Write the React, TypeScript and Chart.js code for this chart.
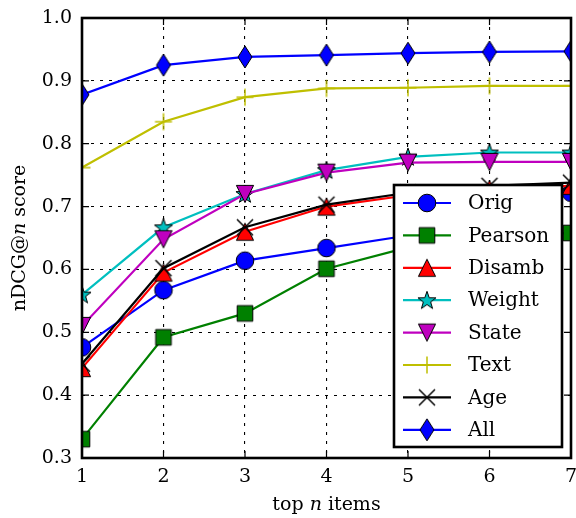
import React, { useEffect, useRef } from "react";
import { Chart, registerables } from "chart.js";

Chart.register(...registerables);

const nValues = [1, 2, 3, 4, 5, 6, 7];
const orig = [0.476, 0.567, 0.614, 0.634, 0.654, 0.675, 0.722];
const pearson = [0.33, 0.492, 0.53, 0.601, 0.635, 0.65, 0.658];
const disamb = [0.443, 0.595, 0.66, 0.7, 0.718, 0.728, 0.733];
const weight = [0.56, 0.667, 0.72, 0.758, 0.779, 0.786, 0.786];
const stateS = [0.51, 0.648, 0.72, 0.754, 0.77, 0.771, 0.771];
const textS = [0.762, 0.835, 0.874, 0.888, 0.889, 0.892, 0.892];
const age = [0.45, 0.602, 0.667, 0.703, 0.722, 0.733, 0.738];
const all = [0.878, 0.925, 0.938, 0.941, 0.944, 0.946, 0.947];

const seriesNames = ["Orig", "Pearson", "Disamb", "Weight", "State", "Text", "Age", "All"];
const seriesValues = [orig, pearson, disamb, weight, stateS, textS, age, all];
const seriesColors = ["#0000ff", "#008000", "#ff0000", "#00bfbf", "#bf00bf", "#bfbf00", "#000000", "#0000ff"];
const seriesMarkers = ["circle", "square", "triUp", "star", "triDown", "plus", "x", "diamond"];

const yMin = 0.3;
const yMax = 1.0;
const yStep = 0.1;
const xTitleParts = [["top ", false], ["n", true], [" items", false]] as [string, boolean][];
const yTitleParts = [["nDCG@", false], ["n", true], [" score", false]] as [string, boolean][];

const FONT = "'DejaVu Serif', serif";
const FS = 19;
const LFS = 20;

function makeMarker(kind: string, color: string): HTMLCanvasElement {
  const S = 28;
  const c = document.createElement("canvas");
  c.width = S;
  c.height = S;
  const ctx = c.getContext("2d")!;
  const cx = S / 2;
  const cy = S / 2;
  ctx.lineJoin = "miter";
  ctx.fillStyle = color;
  ctx.strokeStyle = "#000";
  ctx.lineWidth = 1;
  ctx.beginPath();
  if (kind === "circle") {
    ctx.arc(cx, cy, 8.8, 0, Math.PI * 2);
  } else if (kind === "square") {
    ctx.rect(cx - 7.8, cy - 7.8, 15.6, 15.6);
  } else if (kind === "triUp") {
    ctx.moveTo(cx, cy - 8.6);
    ctx.lineTo(cx + 8.6, cy + 8.6);
    ctx.lineTo(cx - 8.6, cy + 8.6);
    ctx.closePath();
  } else if (kind === "triDown") {
    ctx.moveTo(cx, cy + 8.6);
    ctx.lineTo(cx + 8.6, cy - 8.6);
    ctx.lineTo(cx - 8.6, cy - 8.6);
    ctx.closePath();
  } else if (kind === "star") {
    const R = 9.5;
    const r = 3.8;
    for (let i = 0; i < 10; i++) {
      const rad = i % 2 === 0 ? R : r;
      const a = -Math.PI / 2 + (i * Math.PI) / 5;
      const px = cx + rad * Math.cos(a);
      const py = cy + 0.6 + rad * Math.sin(a);
      if (i === 0) ctx.moveTo(px, py);
      else ctx.lineTo(px, py);
    }
    ctx.closePath();
  } else if (kind === "diamond") {
    ctx.moveTo(cx, cy - 11);
    ctx.lineTo(cx + 7, cy);
    ctx.lineTo(cx, cy + 11);
    ctx.lineTo(cx - 7, cy);
    ctx.closePath();
  } else if (kind === "plus") {
    ctx.strokeStyle = color;
    ctx.lineWidth = 1.5;
    ctx.moveTo(cx - 8.5, cy);
    ctx.lineTo(cx + 8.5, cy);
    ctx.moveTo(cx, cy - 8.5);
    ctx.lineTo(cx, cy + 8.5);
    ctx.stroke();
    return c;
  } else if (kind === "x") {
    ctx.strokeStyle = color;
    ctx.lineWidth = 1.5;
    ctx.moveTo(cx - 8, cy - 8);
    ctx.lineTo(cx + 8, cy + 8);
    ctx.moveTo(cx - 8, cy + 8);
    ctx.lineTo(cx + 8, cy - 8);
    ctx.stroke();
    return c;
  }
  ctx.fill();
  ctx.stroke();
  return c;
}

function drawParts(ctx: CanvasRenderingContext2D, parts: [string, boolean][], x: number, y: number) {
  let total = 0;
  const widths: number[] = [];
  for (const [t, it] of parts) {
    ctx.font = `${it ? "italic " : ""}${FS}px ${FONT}`;
    const w = ctx.measureText(t).width;
    widths.push(w);
    total += w;
  }
  let cur = x - total / 2;
  parts.forEach(([t, it], i) => {
    ctx.font = `${it ? "italic " : ""}${FS}px ${FONT}`;
    ctx.fillText(t, cur, y);
    cur += widths[i];
  });
}

export default function App() {
  const ref = useRef<HTMLCanvasElement>(null);

  useEffect(() => {
    const canvas = ref.current!;
    const markers = seriesMarkers.map((m, i) => makeMarker(m, seriesColors[i]));

    const decor = {
      id: "decor",
      afterDatasetsDraw(chart: any) {
        const ctx: CanvasRenderingContext2D = chart.ctx;
        const a = chart.chartArea;
        const xs = chart.scales.x;
        const ys = chart.scales.y;
        ctx.save();
        // inward ticks
        ctx.strokeStyle = "#000";
        ctx.lineWidth = 1.2;
        ctx.setLineDash([]);
        ctx.beginPath();
        for (const v of nValues) {
          const px = xs.getPixelForValue(v);
          ctx.moveTo(px, a.bottom);
          ctx.lineTo(px, a.bottom - 7);
          ctx.moveTo(px, a.top);
          ctx.lineTo(px, a.top + 7);
        }
        for (let v = yMin; v <= yMax + 1e-9; v += yStep) {
          const py = ys.getPixelForValue(v);
          ctx.moveTo(a.left, py);
          ctx.lineTo(a.left + 7, py);
          ctx.moveTo(a.right, py);
          ctx.lineTo(a.right - 7, py);
        }
        ctx.stroke();
        // frame
        ctx.lineWidth = 2.6;
        ctx.strokeRect(a.left, a.top, a.right - a.left, a.bottom - a.top);

        // legend
        const lw = 168;
        const lh = 262;
        const lx = a.right - 9 - lw;
        const ly = a.bottom - 11 - lh;
        ctx.fillStyle = "#fff";
        ctx.fillRect(lx, ly, lw, lh);
        ctx.lineWidth = 2.6;
        ctx.strokeStyle = "#000";
        ctx.strokeRect(lx, ly, lw, lh);
        const rowH = 32.4;
        ctx.textBaseline = "middle";
        ctx.textAlign = "left";
        seriesNames.forEach((name, i) => {
          const y = ly + 18 + i * rowH;
          ctx.strokeStyle = seriesColors[i];
          ctx.lineWidth = 2.2;
          ctx.beginPath();
          ctx.moveTo(lx + 9, y);
          ctx.lineTo(lx + 57, y);
          ctx.stroke();
          const m = markers[i];
          ctx.drawImage(m, lx + 33 - m.width / 2, y - m.height / 2);
          ctx.fillStyle = "#000";
          ctx.font = `${LFS}px ${FONT}`;
          ctx.fillText(name, lx + 74, y + 1);
        });

        // titles
        ctx.fillStyle = "#000";
        ctx.textBaseline = "alphabetic";
        drawParts(ctx, xTitleParts, (a.left + a.right) / 2, 510);
        ctx.save();
        ctx.translate(25, (a.top + a.bottom) / 2);
        ctx.rotate(-Math.PI / 2);
        drawParts(ctx, yTitleParts, 0, 0);
        ctx.restore();
        ctx.restore();
      },
    };

    const datasets = seriesNames.map((name, i) => ({
      label: name,
      data: nValues.map((n, j) => ({ x: n, y: seriesValues[i][j] })),
      borderColor: seriesColors[i],
      backgroundColor: seriesColors[i],
      borderWidth: 2.2,
      pointStyle: markers[i],
      pointRadius: 9,
      pointHoverRadius: 9,
      tension: 0,
      fill: false,
      clip: 0,
      order: seriesNames.length - i,
    }));

    const chart = new Chart(canvas, {
      type: "line",
      data: { datasets },
      options: {
        responsive: false,
        animation: false,
        events: [],
        layout: { autoPadding: false, padding: { left: 0, right: 5, top: 18, bottom: 0 } },
        plugins: { legend: { display: false }, tooltip: { enabled: false } },
        scales: {
          x: {
            type: "linear",
            min: 1,
            max: 7,
            afterFit: (s: any) => {
              s.height = 60;
              s.paddingLeft = 0;
              s.paddingRight = 0;
            },
            ticks: {
              stepSize: 1,
              color: "#000",
              padding: 8,
              font: { family: FONT, size: FS },
              maxRotation: 0,
              autoSkip: false,
              callback: (v: any) => String(v),
            },
            grid: { color: "#000", lineWidth: 1.1, drawTicks: false },
            border: { display: false, dash: [3, 6] },
          },
          y: {
            type: "linear",
            min: yMin,
            max: yMax,
            afterFit: (s: any) => {
              s.width = 82;
              s.paddingTop = 0;
              s.paddingBottom = 0;
            },
            ticks: {
              stepSize: yStep,
              color: "#000",
              padding: 10,
              font: { family: FONT, size: FS },
              callback: (v: any) => Number(v).toFixed(1),
            },
            grid: { color: "#000", lineWidth: 1.1, drawTicks: false },
            border: { display: false, dash: [3, 6] },
          },
        },
      },
      plugins: [decor],
    });
    return () => chart.destroy();
  }, []);

  return (
    <div style={{ position: "absolute", left: 0, top: 0, width: 576, height: 518, background: "#fff" }}>
      <canvas ref={ref} width={576} height={518} style={{ width: 576, height: 518, display: "block" }} />
    </div>
  );
}
